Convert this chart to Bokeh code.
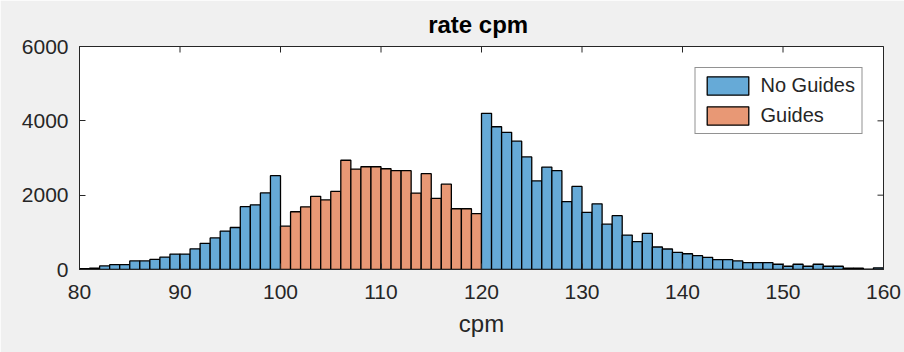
import math
from bokeh.plotting import figure
from bokeh.models import Range1d, FixedTicker, Legend, LegendItem, ColumnDataSource
from bokeh.embed import file_html
from bokeh.resources import INLINE

# ---- data (histogram, bin width 1 cpm) ----
bins_low = list(range(80, 100))
counts_low = [20, 35, 95, 130, 130, 230, 230, 270, 335, 415, 415, 555, 705, 850,
              1035, 1130, 1690, 1740, 2060, 2525]
bins_guides = list(range(100, 120))
counts_guides = [1166, 1554, 1687, 1969, 1872, 2102, 2940, 2702, 2764, 2764,
                 2711, 2658, 2658, 2057, 2578, 1916, 2296, 1634, 1634, 1501]
bins_high = list(range(120, 160))
counts_high = [4203, 3841, 3691, 3453, 3029, 2384, 2755, 2658, 1828, 2234,
               1536, 1766, 1219, 1448, 927, 751, 971, 605, 552, 463,
               424, 371, 327, 265, 265, 230, 185, 185, 185, 141,
               88, 141, 88, 141, 88, 88, 35, 35, 10, 45]
x_ticks = [80, 90, 100, 110, 120, 130, 140, 150, 160]
y_ticks = [0, 2000, 4000, 6000]

BLUE = "#66AAD7"
ORANGE = "#E89875"
FONT = "Liberation Sans"
TXT = "#262626"

x_min, x_max = x_ticks[0], x_ticks[-1]
y_min, y_max = y_ticks[0], y_ticks[-1]

p = figure(width=904, height=352, x_range=Range1d(x_min, x_max), y_range=Range1d(y_min, y_max),
           output_backend="svg", toolbar_location=None,
           min_border_left=79, min_border_right=21, min_border_top=46, min_border_bottom=83)
p.border_fill_color = "#f0f0f0"
p.background_fill_color = "white"
p.outline_line_color = TXT
p.outline_line_width = 1
p.xgrid.visible = False
p.ygrid.visible = False

p.title.text = "rate  cpm"
p.title.align = "center"
p.title.vertical_align = "top"
p.title.text_font = FONT
p.title.text_font_size = "24px"
p.title.text_font_style = "bold"
p.title.text_color = "#000000"
p.title.standoff = 14


def bar_src(bins, counts):
    return ColumnDataSource(dict(x=[b + 0.5 for b in bins], top=counts))


r_low = p.vbar(x="x", top="top", width=1, source=bar_src(bins_low, counts_low),
               fill_color=BLUE, line_color="black", line_width=1.3)
r_g = p.vbar(x="x", top="top", width=1, source=bar_src(bins_guides, counts_guides),
             fill_color=ORANGE, line_color="black", line_width=1.3)
r_high = p.vbar(x="x", top="top", width=1, source=bar_src(bins_high, counts_high),
                fill_color=BLUE, line_color="black", line_width=1.3)

# inward tick marks on the top and right edges of the box (half is clipped by the frame)
p.scatter(x=x_ticks, y=[y_max] * len(x_ticks), marker="dash", size=12, angle=math.pi / 2,
          line_color=TXT, line_width=1)
p.scatter(x=[x_max] * len(y_ticks), y=y_ticks, marker="dash", size=12, angle=0,
          line_color=TXT, line_width=1)


def style(ax, ticks):
    ax.ticker = FixedTicker(ticks=ticks)
    ax.minor_tick_line_color = None
    ax.major_tick_in = 6
    ax.major_tick_out = 0
    ax.major_tick_line_color = TXT
    ax.axis_line_color = TXT
    ax.major_label_text_font = FONT
    ax.major_label_text_color = TXT
    ax.major_label_text_font_size = "21px"


xa = p.xaxis[0]
style(xa, x_ticks)
xa.major_label_standoff = 15
xa.axis_label = "cpm"
xa.axis_label_text_font = FONT
xa.axis_label_text_font_size = "24px"
xa.axis_label_text_font_style = "normal"
xa.axis_label_text_color = TXT
xa.axis_label_standoff = 8

ya = p.yaxis[0]
style(ya, y_ticks)
ya.major_label_standoff = 11

legend = Legend(items=[LegendItem(label="No Guides", renderers=[r_low]),
                       LegendItem(label="Guides", renderers=[r_g])],
                location="top_right", margin=21, padding=6, spacing=7,
                glyph_width=52, glyph_height=23, label_height=23, label_standoff=7,
                label_text_font=FONT, label_text_font_size="20px", label_text_color=TXT,
                border_line_color=TXT, border_line_width=1,
                background_fill_color="white", background_fill_alpha=1.0)
p.add_layout(legend, "center")

open("out.html", "w").write(file_html(p, INLINE))
